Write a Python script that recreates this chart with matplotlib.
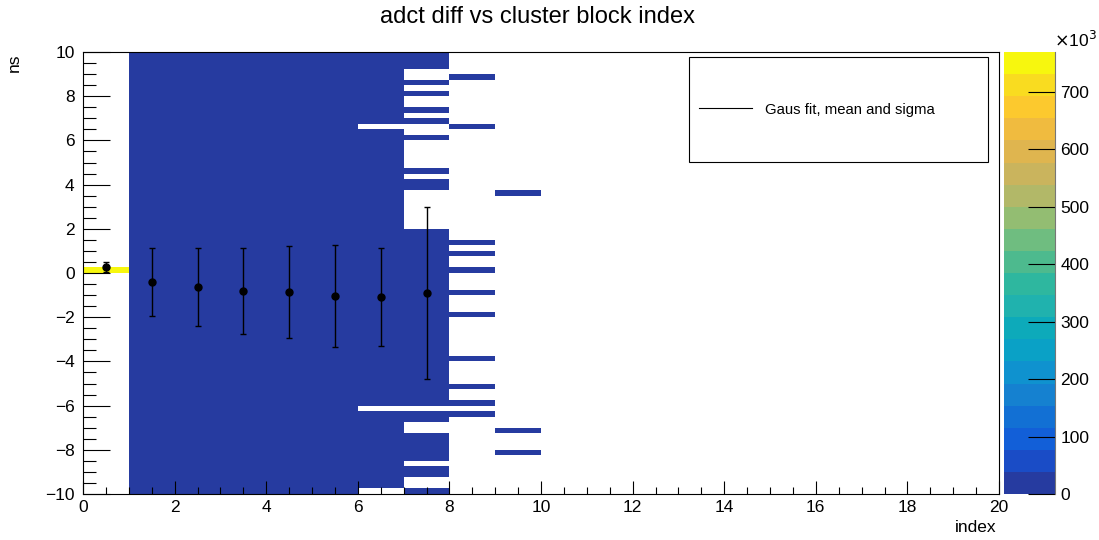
import numpy as np
import matplotlib.pyplot as plt
from matplotlib.colors import ListedColormap, Normalize
from matplotlib.lines import Line2D
from matplotlib.patches import Rectangle
from matplotlib.ticker import MultipleLocator

plt.rcParams['font.family'] = ['Liberation Sans', 'DejaVu Sans']

# binning of the 2D histogram: 20 index bins, 80 bins of 0.25 ns
x_edges = np.linspace(0, 20, 21)
y_edges = np.linspace(-10, 10, 81)

# occupied y ranges (ns) for each index bin, all other bins are empty
filled = {
    0: [(0.0, 0.25)],
    1: [(-10, 10)],
    2: [(-10, 10)],
    3: [(-10, 10)],
    4: [(-10, 10)],
    5: [(-10, 10)],
    6: [(-9.75, -6.25), (-6.0, 6.5), (6.75, 10)],
    7: [(-10, -9.75), (-9.25, -8.75), (-8.5, -7.25), (-6.75, -6.25), (-6.0, 2.0),
        (3.75, 4.25), (4.5, 4.75), (6.0, 6.25), (6.75, 7.0), (7.25, 7.5),
        (8.0, 8.25), (8.5, 8.75), (9.25, 10)],
    8: [(-6.5, -6.25), (-6.0, -5.75), (-5.25, -5.0), (-4.0, -3.75), (-2.0, -1.75),
        (-1.0, -0.75), (0.0, 0.25), (0.75, 1.0), (1.25, 1.5), (6.5, 6.75), (8.75, 9.0)],
    9: [(-8.25, -8.0), (-7.25, -7.0), (3.5, 3.75)],
}
peak_count = 769000   # the single yellow bin
low_count = 2000      # everything else sits in the lowest colour band

# gaus fit results per index bin
fit_x = [0.5, 1.5, 2.5, 3.5, 4.5, 5.5, 6.5, 7.5]
fit_mean = [0.27, -0.41, -0.63, -0.80, -0.86, -1.06, -1.10, -0.90]
fit_sigma = [0.24, 1.52, 1.76, 1.94, 2.07, 2.31, 2.22, 3.88]

# ROOT kBird-like palette, 20 contours
bird = ['#263ba0', '#1a4cc6', '#125fd8', '#1270d4', '#1581d0', '#0f92cf',
        '#0aa1c6', '#0daaba', '#20b2ae', '#2eb79f', '#4dba8e', '#6fbd80',
        '#93bd72', '#b2b868', '#cab45d', '#dfb54f', '#f0bb3f', '#fcc92e',
        '#f9dc20', '#f7f70e']

############### build histogram ###################
y_cent = 0.5 * (y_edges[:-1] + y_edges[1:])
H = np.zeros((len(y_edges) - 1, len(x_edges) - 1))
for col, ranges in filled.items():
    for lo, hi in ranges:
        H[(y_cent > lo) & (y_cent < hi), col] = low_count
H[(y_cent > 0) & (y_cent < 0.25), 0] = peak_count
H = np.ma.masked_equal(H, 0)

fig = plt.figure(figsize=(10.99, 5.40), dpi=100)
ax = fig.add_axes([83/1099, 46/540, 916/1099, 442/540])
cax = fig.add_axes([1004/1099, 46/540, 51/1099, 442/540])

cmap = ListedColormap(bird)
norm = Normalize(0, peak_count)
mesh = ax.pcolormesh(x_edges, y_edges, H, cmap=cmap, norm=norm)

ax.errorbar(fit_x, fit_mean, yerr=fit_sigma, fmt='o', color='black', ms=5,
            elinewidth=1, capsize=2.5, capthick=1)

ax.set_xlim(0, 20)
ax.set_ylim(-10, 10)
ax.xaxis.set_major_locator(MultipleLocator(2))
ax.xaxis.set_minor_locator(MultipleLocator(0.5))
ax.yaxis.set_major_locator(MultipleLocator(2))
ax.yaxis.set_minor_locator(MultipleLocator(0.5))
ax.tick_params(axis='both', which='both', direction='in', labelsize=12.5,
               top=False, right=False, width=0.8)
ax.tick_params(axis='y', which='major', length=19.5, pad=6)
ax.tick_params(axis='y', which='minor', length=9.7)
ax.tick_params(axis='x', which='major', length=9.6, pad=4)
ax.tick_params(axis='x', which='minor', length=4.8)
for s in ax.spines.values():
    s.set_linewidth(0.8)

fig.suptitle('adct diff vs cluster block index', x=537/1099, y=1 - 6/540,
             va='top', fontsize=17)
fig.text(14/1099, 1 - 53/540, 'ns', rotation=90, ha='center', va='top', fontsize=12.5)
fig.text(997/1099, 1 - 520/540, 'index', ha='right', va='top', fontsize=12.5)

# legend box (frame drawn as a plain rectangle, entry from ax.legend)
ax.add_patch(Rectangle((0.6616, 0.751), 0.3264, 0.2377, transform=ax.transAxes,
                       facecolor='white', edgecolor='black', lw=0.8, zorder=5))
handle = Line2D([], [], color='black', lw=0.8)
leg = ax.legend([handle], ['Gaus fit, mean and sigma'], loc='center left',
                bbox_to_anchor=(0.6616 + 4/916, 0.751 + 0.2377/2),
                fontsize=10.7, frameon=False, borderpad=0.4,
                handlelength=3.6, handletextpad=0.85, borderaxespad=0)
leg.set_zorder(6)

############### palette axis ###################
cb = fig.colorbar(mesh, cax=cax)
cb.outline.set_visible(False)
cb.set_ticks(np.arange(0, 800000, 100000))
cb.set_ticklabels([str(v) for v in range(0, 800, 100)])
cax.yaxis.set_ticks_position('right')
cax.tick_params(direction='in', length=19.5, width=0.8, labelsize=12.5, pad=4)
cax.spines['right'].set_visible(True)
cax.spines['right'].set_color('#777777')
fig.text(1075/1099, 1 - 30/540, r'$\times$10$^{3}$', ha='center', va='top', fontsize=12.5)

fig.savefig('out.png', dpi=100)
